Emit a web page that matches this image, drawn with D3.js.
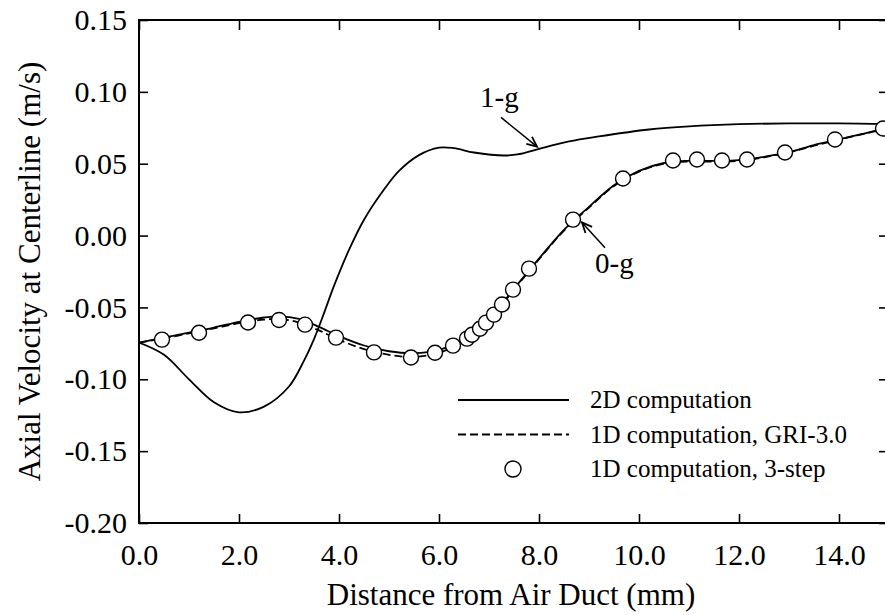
<!DOCTYPE html>
<html>
<head>
<meta charset="utf-8">
<script src="https://cdn.jsdelivr.net/npm/d3@7"></script>
<style>
  body { margin: 0; background: #fff; }
  svg { display: block; }
  svg text { font-family: 'Liberation Serif', Tinos, 'DejaVu Serif', serif !important; fill: #000; }
  .axis .domain { display: none; }
  .axis line { stroke: #000; stroke-width: 1.6; }
</style>
</head>
<body>
<div id="chart"></div>
<script>

// x positions (mm) and velocities (m/s)
var x2dOneG = [0, 0.5, 1.0, 1.5, 2.0, 2.5, 3.0, 3.3, 3.5, 3.7, 3.9, 4.2, 4.5, 4.9, 5.2, 5.6, 6.0, 6.3, 6.7, 7.3, 7.6, 8.0, 8.6, 9.2, 10.2, 11.0, 12.0, 13.0, 14.0, 15.0];
var v2dOneG = [-0.0745, -0.083, -0.100, -0.116, -0.123, -0.119, -0.105, -0.087, -0.072, -0.054, -0.035, -0.010, 0.011, 0.032, 0.045, 0.056, 0.0612, 0.0608, 0.0578, 0.0557, 0.0566, 0.0603, 0.0655, 0.069, 0.0738, 0.076, 0.0775, 0.078, 0.078, 0.0775];

var xZeroG = [0, 0.5, 1.0, 1.5, 2.0, 2.5, 2.8, 3.2, 3.6, 4.0, 4.5, 5.0, 5.5, 6.0, 6.5, 7.0, 7.5, 8.0, 8.5, 9.0, 9.5, 10.0, 10.5, 11.0, 11.5, 12.0, 12.5, 13.0, 13.5, 14.0, 14.5, 15.0];
var v2dZeroG = [-0.0745, -0.071, -0.0675, -0.064, -0.060, -0.057, -0.0562, -0.058, -0.0635, -0.070, -0.0765, -0.0805, -0.0818, -0.0795, -0.072, -0.058, -0.037, -0.016, 0.004, 0.020, 0.035, 0.045, 0.0505, 0.052, 0.052, 0.0525, 0.0548, 0.058, 0.063, 0.067, 0.071, 0.075];
var vGri = [-0.0745, -0.0715, -0.068, -0.0645, -0.061, -0.0585, -0.058, -0.0605, -0.066, -0.0725, -0.079, -0.083, -0.0845, -0.0815, -0.0735, -0.059, -0.0375, -0.0165, 0.0035, 0.0195, 0.0345, 0.0445, 0.050, 0.0515, 0.0515, 0.052, 0.0545, 0.058, 0.0625, 0.0668, 0.0708, 0.0748];

var xThreeStep = [0.46, 1.2, 2.18, 2.8, 3.32, 3.94, 4.7, 5.44, 5.92, 6.28, 6.56, 6.66, 6.82, 6.94, 7.1, 7.26, 7.48, 7.8, 8.68, 9.68, 10.68, 11.16, 11.66, 12.16, 12.92, 13.92, 14.88];
var vThreeStep = [-0.0724, -0.0676, -0.0605, -0.0587, -0.062, -0.071, -0.0813, -0.0848, -0.0815, -0.0766, -0.0717, -0.069, -0.0648, -0.0606, -0.055, -0.048, -0.0376, -0.023, 0.0111, 0.0397, 0.0522, 0.0529, 0.0522, 0.0529, 0.0578, 0.0669, 0.0745];

var xTicks = [0, 2, 4, 6, 8, 10, 12, 14];
var yTicks = [-0.20, -0.15, -0.10, -0.05, 0.00, 0.05, 0.10, 0.15];

var legendLabels = ['2D computation', '1D computation, GRI-3.0', '1D computation, 3-step'];

// annotations: label position and arrow (from -> to), in data units
var noteLabels = ['1-g', '0-g'];
var noteAt = [[6.82, 0.0898], [9.12, -0.0258]];
var noteArrows = [[[7.24, 0.0822], [7.96, 0.0619]], [[9.32, -0.0084], [8.86, 0.0091]]];


var serif = "'Liberation Serif', Tinos, 'DejaVu Serif', serif";

var settings = {
  width: 885, height: 615,
  left: 139, right: 889, top: 20, bottom: 523
};

var svg = d3.select('#chart').append('svg')
  .attr('width', settings.width)
  .attr('height', settings.height)
  .attr('font-family', serif);

var scaleX = d3.scaleLinear().domain([0, 15]).range([settings.left, settings.right]);
var scaleY = d3.scaleLinear().domain([-0.2, 0.15]).range([settings.bottom, settings.top]);

svg.append('defs').append('clipPath').attr('id', 'plot-clip')
  .append('rect')
  .attr('x', settings.left).attr('y', settings.top)
  .attr('width', settings.right - settings.left)
  .attr('height', settings.bottom - settings.top);

// axes, ticks pointing inward
var fmtY = function(d) { return d3.format('.2f')(d).replace('\u2212', '-'); };

svg.append('g').classed('axis', true)
  .attr('transform', 'translate(0,' + settings.bottom + ')')
  .call(d3.axisBottom(scaleX).tickValues(xTicks).tickSize(-9).tickPadding(21).tickFormat(d3.format('.1f')));

svg.append('g').classed('axis', true)
  .attr('transform', 'translate(0,' + settings.top + ')')
  .call(d3.axisTop(scaleX).tickValues(xTicks).tickSize(-10).tickFormat(''));

svg.append('g').classed('axis', true)
  .attr('transform', 'translate(' + settings.left + ',0)')
  .call(d3.axisLeft(scaleY).tickValues(yTicks).tickSize(-9).tickPadding(12).tickFormat(fmtY));

svg.append('g').classed('axis', true)
  .attr('transform', 'translate(' + settings.right + ',0)')
  .call(d3.axisRight(scaleY).tickValues(yTicks).tickSize(-10).tickFormat(''));

svg.selectAll('.axis').attr('font-family', serif).attr('font-size', 30);

svg.append('rect')
  .attr('x', settings.left).attr('y', settings.top)
  .attr('width', settings.right - settings.left)
  .attr('height', settings.bottom - settings.top)
  .attr('fill', 'none').attr('stroke', '#000').attr('stroke-width', 2);

// axis titles
svg.append('text')
  .attr('x', (settings.left + settings.right) / 2 - 3)
  .attr('y', 605)
  .attr('text-anchor', 'middle')
  .attr('font-size', 31)
  .text('Distance from Air Duct (mm)');

svg.append('text')
  .attr('transform', 'translate(40,' + (settings.top + settings.bottom) / 2 + ') rotate(-90)')
  .attr('text-anchor', 'middle')
  .attr('font-size', 31)
  .text('Axial Velocity at Centerline (m/s)');

// curves
var plot = svg.append('g').attr('clip-path', 'url(#plot-clip)');

var line = d3.line()
  .x(function(d) { return scaleX(d[0]); })
  .y(function(d) { return scaleY(d[1]); })
  .curve(d3.curveCatmullRom.alpha(0.5));

var series = [
  { xs: xZeroG, vs: vGri, dash: '8,4' },
  { xs: xZeroG, vs: v2dZeroG, dash: null },
  { xs: x2dOneG, vs: v2dOneG, dash: null }
];

plot.selectAll('path.curve')
  .data(series)
  .enter()
  .append('path')
  .classed('curve', true)
  .attr('d', function(s) { return line(d3.zip(s.xs, s.vs)); })
  .attr('fill', 'none')
  .attr('stroke', '#000')
  .attr('stroke-width', 1.8)
  .attr('stroke-dasharray', function(s) { return s.dash; });

plot.selectAll('circle.pt')
  .data(d3.zip(xThreeStep, vThreeStep))
  .enter()
  .append('circle')
  .classed('pt', true)
  .attr('cx', function(d) { return scaleX(d[0]); })
  .attr('cy', function(d) { return scaleY(d[1]); })
  .attr('r', 7.5)
  .attr('fill', '#fff')
  .attr('stroke', '#000')
  .attr('stroke-width', 1.4);

// annotations with open arrowheads
svg.selectAll('text.note')
  .data(noteLabels)
  .enter()
  .append('text')
  .classed('note', true)
  .attr('x', function(d, i) { return scaleX(noteAt[i][0]); })
  .attr('y', function(d, i) { return scaleY(noteAt[i][1]); })
  .attr('font-size', 29)
  .text(function(d) { return d; });

noteArrows.forEach(function(a) {
  var x1 = scaleX(a[0][0]), y1 = scaleY(a[0][1]);
  var x2 = scaleX(a[1][0]), y2 = scaleY(a[1][1]);
  var ang = Math.atan2(y2 - y1, x2 - x1);
  var len = 11, spread = 0.42;
  svg.append('line')
    .attr('x1', x1).attr('y1', y1).attr('x2', x2).attr('y2', y2)
    .attr('stroke', '#000').attr('stroke-width', 1.5);
  svg.append('path')
    .attr('d', 'M' + (x2 - len * Math.cos(ang - spread)) + ',' + (y2 - len * Math.sin(ang - spread)) +
      'L' + x2 + ',' + y2 +
      'L' + (x2 - len * Math.cos(ang + spread)) + ',' + (y2 - len * Math.sin(ang + spread)))
    .attr('fill', 'none').attr('stroke', '#000').attr('stroke-width', 1.8);
});

// legend
var legend = svg.append('g').attr('transform', 'translate(458,400)');
var rowH = 34.5;

legend.selectAll('text')
  .data(legendLabels)
  .enter()
  .append('text')
  .attr('x', 132)
  .attr('y', function(d, i) { return i * rowH + 8; })
  .attr('font-size', 25)
  .text(function(d) { return d; });

legend.append('line')
  .attr('x1', 0).attr('x2', 111).attr('y1', 0).attr('y2', 0)
  .attr('stroke', '#000').attr('stroke-width', 1.8);
legend.append('line')
  .attr('x1', 0).attr('x2', 111).attr('y1', rowH).attr('y2', rowH)
  .attr('stroke', '#000').attr('stroke-width', 1.8).attr('stroke-dasharray', '8,4');
legend.append('circle')
  .attr('cx', 55).attr('cy', rowH * 2).attr('r', 8)
  .attr('fill', '#fff').attr('stroke', '#000').attr('stroke-width', 1.4);

</script>
</body>
</html>
